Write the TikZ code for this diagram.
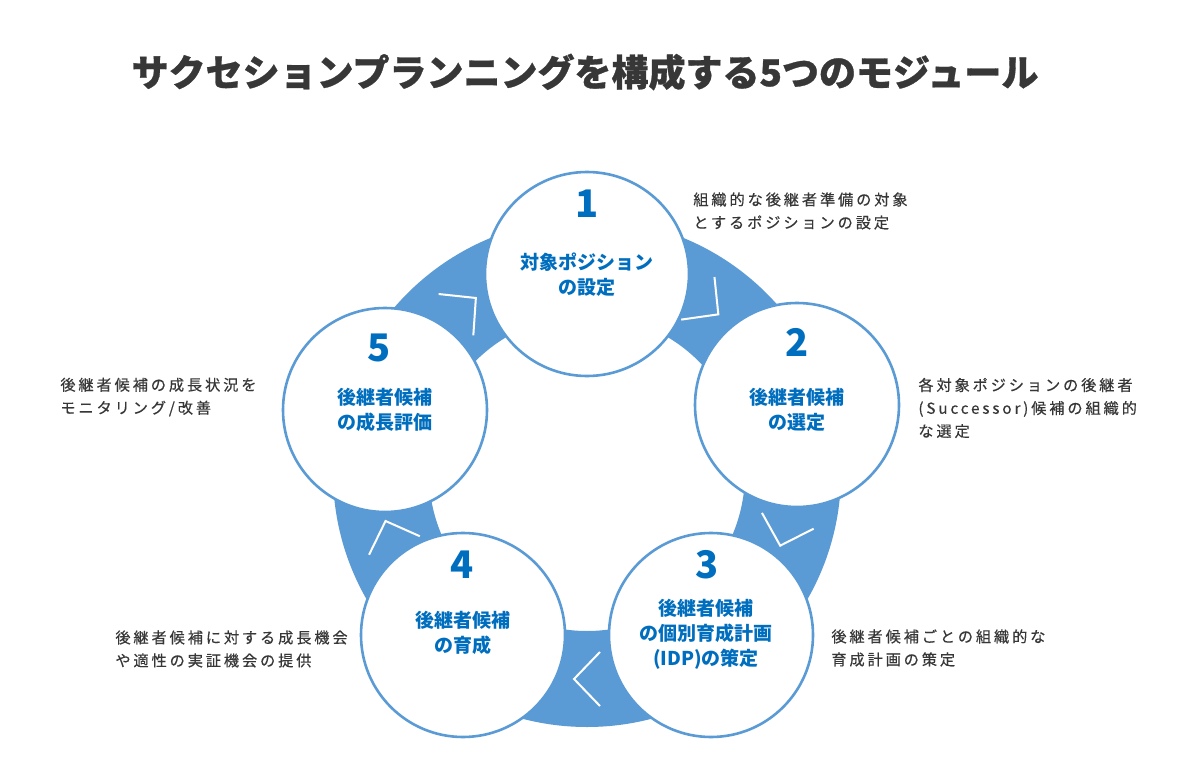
\documentclass[tikz,border=0pt]{standalone}
\usepackage{fontspec}
\usetikzlibrary{calc}
\setmainfont{Noto Sans CJK JP}
\definecolor{band}{RGB}{91,155,213}
\definecolor{numblue}{RGB}{0,110,190}
\definecolor{txt}{RGB}{55,55,55}
\begin{document}
\begin{tikzpicture}[x=0.5pt,y=0.5pt,
  stage/.style={circle, draw=band, line width=1.3pt, fill=white, minimum size=102pt, inner sep=0pt},
  num/.style={font=\bfseries\fontsize{19}{19}\selectfont, text=numblue, inner sep=0pt},
  lbl/.style={font=\bfseries\fontsize{9.5}{12.5}\selectfont, text=numblue, align=center, inner sep=0pt},
  desc/.style={font=\fontsize{7.6}{11.5}\selectfont\addfontfeatures{LetterSpace=19,FakeBold=0.4}, text=txt, align=left, anchor=west, inner sep=0pt},
  chev/.style={draw=white, line width=1pt},
  ttl/.style={font=\bfseries\fontsize{18.5}{18.5}\selectfont\addfontfeatures{FakeBold=0.8}, text=txt, inner sep=0pt}
]
\useasboundingbox (0,0) rectangle (1200,757);
\fill[white] (0,0) rectangle (1200,757);

\node[ttl] (title) at (585,685) {サクセションプランニングを構成する5つのモジュール};

\coordinate (ring) at (587,284);
\fill[band, even odd rule] (ring) circle[radius=127pt] (ring) circle[radius=79pt];

% chevrons
\foreach \a/\r in {54/-38,-17/-107,-90/-180,-163/-250,126/40}{
  \begin{scope}[shift={($(ring)+(\a:103pt)$)}, rotate=\r]
    \draw[chev] (-13,27) -- (13,0) -- (-13,-27);
  \end{scope}
}

\node[stage] (c1) at (587,483) {};
\node[stage] (c2) at (797,352) {};
\node[stage] (c3) at (711,122) {};
\node[stage] (c4) at (463,122) {};
\node[stage] (c5) at (385,347) {};

\node[num] (n1) at (587,553) {1};
\node[lbl] (l1) at (587,482) {対象ポジション\\の設定};
\node[num] (n2) at (797,415) {2};
\node[lbl] (l2) at (797,347) {後継者候補\\の選定};
\node[num] (n3) at (707,192) {3};
\node[lbl] (l3) at (706,123) {後継者候補\\の個別育成計画\\(IDP)の策定};
\node[num] (n4) at (462,192) {4};
\node[lbl] (l4) at (463,124) {後継者候補\\の育成};
\node[num] (n5) at (379,409) {5};
\node[lbl] (l5) at (385,347) {後継者候補\\の成長評価};

\node[desc] (d1) at (693,546) {組織的な後継者準備の対象\\とするポジションの設定};
\node[desc] (d2) at (918,349) {各対象ポジションの後継者\\(Successor)候補の組織的\\な選定};
\node[desc] (d5) at (60,360) {後継者候補の成長状況を\\モニタリング/改善};
\node[desc] (d4) at (115,108) {後継者候補に対する成長機会\\や適性の実証機会の提供};
\node[desc] (d3) at (831,109) {後継者候補ごとの組織的な\\育成計画の策定};
\end{tikzpicture}
\end{document}
